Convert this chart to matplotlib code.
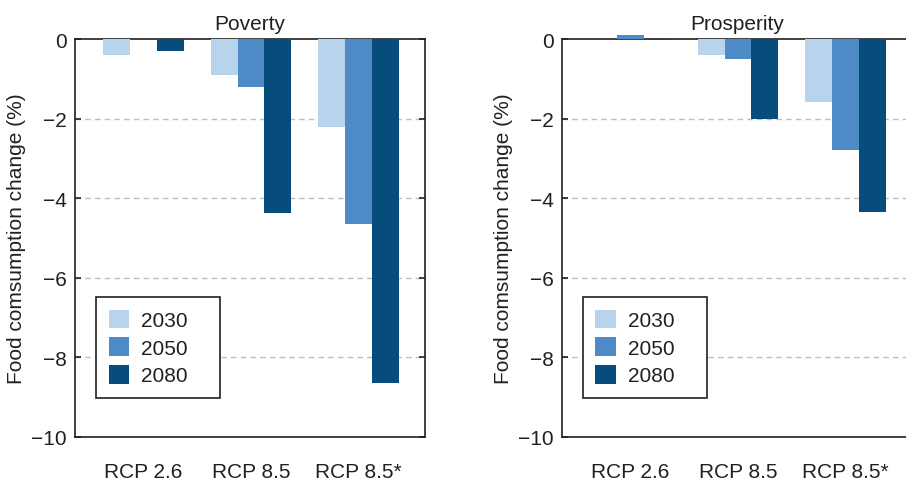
import matplotlib.pyplot as plt
import numpy as np

plt.rcParams['font.family'] = ['Liberation Sans', 'DejaVu Sans']
plt.rcParams['font.size'] = 15
plt.rcParams['text.color'] = '#231f20'
plt.rcParams['axes.labelcolor'] = '#231f20'
plt.rcParams['xtick.color'] = '#231f20'
plt.rcParams['ytick.color'] = '#231f20'

scenarios = ['RCP 2.6', 'RCP 8.5', 'RCP 8.5*']
years = ['2030', '2050', '2080']
colors = ['#b8d3ec', '#4d8ac6', '#064d7e']

# food consumption change (%) per scenario, one list per year
poverty_2030 = [-0.4, -0.9, -2.2]
poverty_2050 = [0.0, -1.2, -4.65]
poverty_2080 = [-0.3, -4.36, -8.64]

prosperity_2030 = [0.0, -0.4, -1.58]
prosperity_2050 = [0.1, -0.5, -2.8]
prosperity_2080 = [-0.03, -2.0, -4.34]

panels = [
    ('Poverty', [poverty_2030, poverty_2050, poverty_2080]),
    ('Prosperity', [prosperity_2030, prosperity_2050, prosperity_2080]),
]

fig = plt.figure(figsize=(9.06, 4.81), dpi=100)
ax_left = fig.add_axes([0.0828, 0.0894, 0.3863, 0.8274])
ax_right = fig.add_axes([0.6203, 0.0894, 0.3863, 0.8274])

x = np.arange(len(scenarios))
w = 0.25

for ax, (title, series) in zip([ax_left, ax_right], panels):
    for i, (vals, yr, c) in enumerate(zip(series, years, colors)):
        ax.bar(x + (i - 1) * w, vals, width=w, color=c, label=yr,
               clip_on=False, zorder=3)
    ax.set_xlim(-0.637, 2.619)
    ax.set_ylim(-10, 0)
    ax.set_yticks([0, -2, -4, -6, -8, -10])
    ax.set_yticklabels(['0', '\u22122', '\u22124', '\u22126', '\u22128', '\u221210'])
    ax.set_xticks(x)
    ax.set_xticklabels(scenarios)
    ax.tick_params(axis='x', length=0, pad=18)
    ax.tick_params(axis='y', direction='in', length=4, width=1.2,
                   right=True, pad=6)
    for yv in [-2, -4, -6, -8]:
        ax.axhline(yv, color='#bdbdbd', lw=1, ls=(0, (4, 3)), zorder=1)
    for s in ax.spines.values():
        s.set_linewidth(1.2)
        s.set_color('#231f20')
    ax.set_title(title, fontsize=15, pad=7)
    ax.set_ylabel('Food comsumption change (%)')
    ax.yaxis.set_label_coords(-0.14, 0.5)
    # wide box with the entries kept to the left
    leg = ax.legend(loc='lower left', bbox_to_anchor=(0.06, 0.098, 0.354, 0.254),
                    mode='expand', borderaxespad=0, fancybox=False,
                    framealpha=1, edgecolor='#231f20', handlelength=1.0,
                    handleheight=1.0, labelspacing=0.35, handletextpad=0.55,
                    borderpad=0.6)
    leg.get_frame().set_linewidth(1.2)

fig.savefig('out.png', dpi=100)
